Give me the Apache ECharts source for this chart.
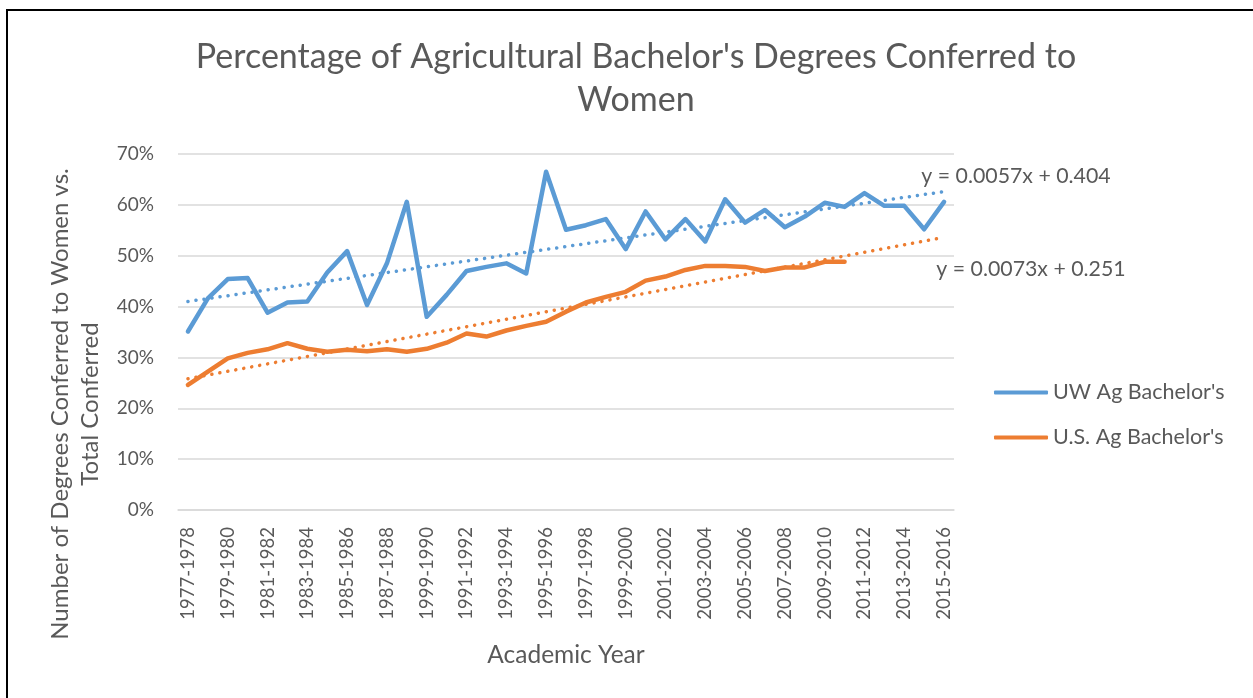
<!DOCTYPE html>
<html>
<head>
<meta charset="utf-8">
<script src="https://cdn.jsdelivr.net/npm/echarts@6/dist/echarts.min.js"></script>
<style>
  html, body { margin: 0; padding: 0; background: #fff; overflow: hidden; }
  #frame { position: absolute; left: 6px; top: 9px; width: 1400px; height: 900px; border: 2px solid #000; box-sizing: border-box; }
  #chart { position: absolute; left: 0; top: 0; width: 1253px; height: 698px; }
</style>
</head>
<body>
<div id="frame"></div>
<div id="chart"></div>
<script>
// Categories (academic years) — label typo "1999-1990" kept as in original
const categories = [
  '1977-1978','1978-1979','1979-1980','1980-1981','1981-1982','1982-1983','1983-1984',
  '1984-1985','1985-1986','1986-1987','1987-1988','1988-1989','1999-1990','1990-1991',
  '1991-1992','1992-1993','1993-1994','1994-1995','1995-1996','1996-1997','1997-1998',
  '1998-1999','1999-2000','2000-2001','2001-2002','2002-2003','2003-2004','2004-2005',
  '2005-2006','2006-2007','2007-2008','2008-2009','2009-2010','2010-2011','2011-2012',
  '2012-2013','2013-2014','2014-2015','2015-2016'
];
// UW Ag Bachelor's, % women
const uwValues = [
  35.1, 41.6, 45.4, 45.6, 38.8, 40.8, 41.0, 46.7, 50.9, 40.3,
  48.5, 60.6, 38.0, 42.3, 47.0, 47.8, 48.5, 46.5, 66.5, 55.1,
  56.0, 57.2, 51.3, 58.7, 53.2, 57.2, 52.8, 61.1, 56.5, 59.0,
  55.6, 57.7, 60.4, 59.6, 62.3, 59.8, 59.8, 55.2, 60.6
];
// U.S. Ag Bachelor's, % women (data ends 2010-2011)
const usValues = [
  24.6, 27.2, 29.8, 30.9, 31.6, 32.8, 31.7, 31.1, 31.5, 31.2,
  31.6, 31.1, 31.7, 32.9, 34.7, 34.1, 35.3, 36.2, 37.0, 39.0,
  40.8, 41.9, 42.9, 45.1, 45.9, 47.2, 48.0, 48.0, 47.8, 47.0,
  47.7, 47.7, 48.8, 48.8
];
// Linear trendline end values (first and last category)
const uwTrendEnds = [41.0, 62.6];
const usTrendEnds = [25.8, 53.6];
const uwTrendLabel = 'y = 0.0057x + 0.404';
const usTrendLabel = 'y = 0.0073x + 0.251';
const yTicks = [0, 10, 20, 30, 40, 50, 60, 70];

function trendSeriesData(ends) {
  const d = categories.map(() => null);
  d[0] = ends[0];
  d[categories.length - 1] = ends[1];
  return d;
}

const FONT = 'Lato';
const TXT = '#595959';
const BLUE = '#5B9BD5';
const ORANGE = '#ED7D31';

const chart = echarts.init(document.getElementById('chart'), null, { renderer: 'canvas' });
chart.setOption({
  animation: false,
  textStyle: { fontFamily: FONT, color: TXT },
  title: {
    text: "Percentage of Agricultural Bachelor's Degrees Conferred to\nWomen",
    left: 631, top: 31, textAlign: 'center',
    textStyle: { fontFamily: FONT, fontSize: 34, fontWeight: 'normal', color: TXT, lineHeight: 43 }
  },
  grid: { left: 178, top: 154, width: 776, height: 356, containLabel: false },
  legend: {
    orient: 'vertical', left: 989, top: 376, itemGap: 22,
    itemWidth: 54, itemHeight: 4, icon: 'roundRect',
    data: ["UW Ag Bachelor's", "U.S. Ag Bachelor's"],
    textStyle: { fontFamily: FONT, fontSize: 21.5, color: TXT, lineHeight: 23 }
  },
  xAxis: {
    type: 'category', data: categories, boundaryGap: true,
    axisLine: { show: true, lineStyle: { color: '#D9D9D9', width: 1.5 } },
    axisTick: { show: false },
    axisLabel: { interval: 1, rotate: 90, margin: 17, fontFamily: FONT, fontSize: 18.5, color: TXT },
    name: 'Academic Year', nameLocation: 'middle', nameGap: 133,
    nameTextStyle: { fontFamily: FONT, fontSize: 24.5, color: TXT }
  },
  yAxis: {
    type: 'value', min: yTicks[0], max: yTicks[yTicks.length - 1], interval: 10,
    axisLine: { show: false }, axisTick: { show: false },
    axisLabel: { formatter: '{value}%', margin: 24, fontFamily: FONT, fontSize: 19, color: TXT },
    splitLine: { lineStyle: { color: '#D9D9D9', width: 1.5 } }
  },
  graphic: [
    { type: 'text', x: 75, y: 404, rotation: Math.PI / 2,
      style: { text: 'Number of Degrees Conferred to Women vs.\nTotal Conferred', align: 'center', verticalAlign: 'middle',
        font: '24px ' + FONT, fill: TXT, lineHeight: 30 } },
    { type: 'text', x: 1016, y: 176,
      style: { text: uwTrendLabel, align: 'center', verticalAlign: 'middle', font: '21.3px ' + FONT, fill: TXT } },
    { type: 'text', x: 1031, y: 269,
      style: { text: usTrendLabel, align: 'center', verticalAlign: 'middle', font: '21.3px ' + FONT, fill: TXT } }
  ],
  series: [
    { name: 'UW trend', type: 'line', data: trendSeriesData(uwTrendEnds), connectNulls: true, symbol: 'none',
      lineStyle: { color: BLUE, width: 3.5, type: [0.1, 8], cap: 'round' }, z: 1, silent: true },
    { name: 'US trend', type: 'line', data: trendSeriesData(usTrendEnds), connectNulls: true, symbol: 'none',
      lineStyle: { color: ORANGE, width: 3.5, type: [0.1, 8], cap: 'round' }, z: 1, silent: true },
    { name: "UW Ag Bachelor's", type: 'line', data: uwValues, symbol: 'none', color: BLUE,
      lineStyle: { color: BLUE, width: 4.5, cap: 'round', join: 'round' }, z: 3 },
    { name: "U.S. Ag Bachelor's", type: 'line', data: usValues, symbol: 'none', color: ORANGE,
      lineStyle: { color: ORANGE, width: 4.5, cap: 'round', join: 'round' }, z: 2 }
  ]
});
</script>
</body>
</html>
